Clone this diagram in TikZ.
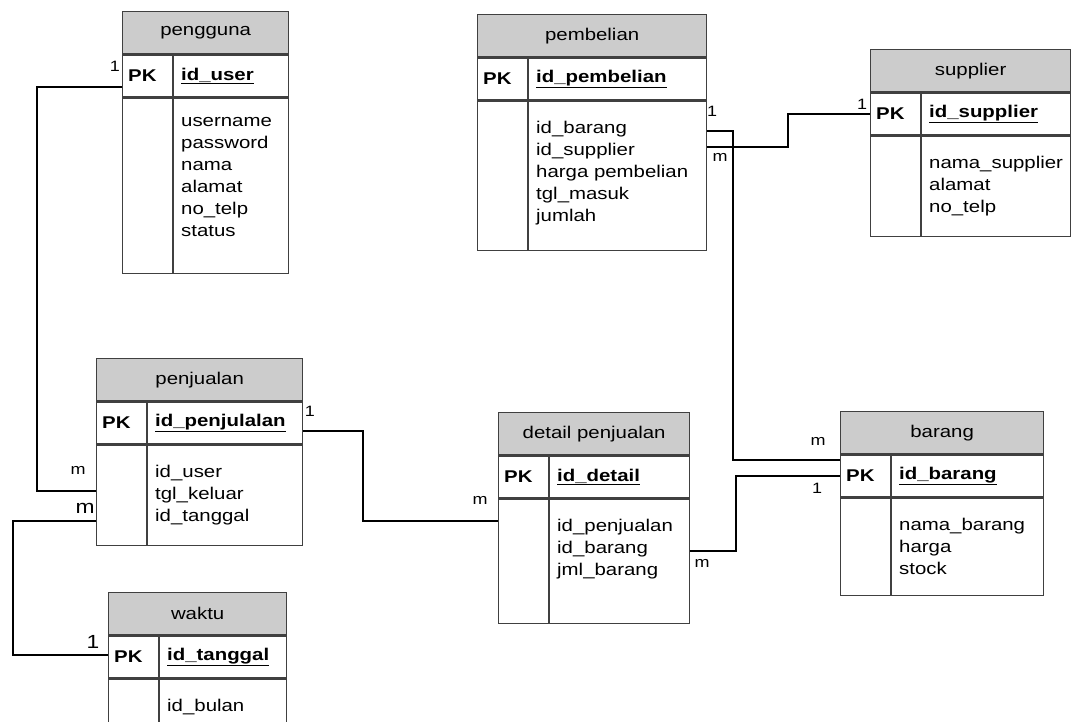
\documentclass[tikz,border=0pt]{standalone}
\usepackage{fontspec}
\setmainfont[FakeStretch=1.2]{Liberation Sans}
\usetikzlibrary{
  positioning,
  calc
}

\begin{document}
\begin{tikzpicture}[
    x=1pt,y=-1pt,
    font=\fontsize{17}{22}\selectfont,
    tblhead/.style={
      draw=black!75,
      line width=1.3pt,
      fill=black!20,
      minimum height=42pt,
      inner sep=0pt
    },
    tblkey/.style={
      draw=black!75,
      line width=1.3pt,
      fill=white,
      minimum height=42pt,
      inner sep=0pt
    },
    tblbody/.style={
      draw=black!75,
      line width=1.3pt,
      fill=white,
      inner sep=0pt
    },
    tblline/.style={
      draw=black!75,
      line width=1.3pt
    },
    pktext/.style={
      font=\fontsize{17}{22}\selectfont\bfseries,
      inner sep=0pt
    },
    fieldtext/.style={
      align=left,
      inner sep=0pt
    },
    rel/.style={
      draw=black,
      line width=1.8pt
    },
    card/.style={
      font=\fontsize{15}{16}\selectfont,
      inner sep=0pt
    },
    bigcard/.style={
      font=\fontsize{19}{20}\selectfont,
      inner sep=0pt
    }
  ]
  \newcommand{\divX}{51}
  \newcommand{\erTable}[8]{
    \node[tblhead, minimum width=#4pt, anchor=north west] (#1) at (#2,#3) {#6};
    \node[tblkey, minimum width=#4pt, anchor=north] (#1-pk) at (#1.south) {};
    \node[tblbody, minimum width=#4pt, minimum height=#5pt, anchor=north] (#1-body) at (#1-pk.south) {};
    \draw[tblline] ([xshift=\divX pt]#1-pk.north west) -- ([xshift=\divX pt]#1-body.south west);
    \node[pktext, anchor=west] (#1-pklabel) at ([xshift=6pt]#1-pk.west) {PK};
    \node[pktext, anchor=west] (#1-key) at ([xshift=\divX pt+8pt]#1-pk.west) {\underline{#7}};
    \node[fieldtext, anchor=north west] (#1-fields) at ([xshift=\divX pt+8pt,yshift=-20pt]#1-body.north west) {#8};
  }
  \useasboundingbox[fill=white] (0,0) rectangle (1073,722);

  % Tables
  \erTable{pengguna}{122}{11}{166}{175}{pengguna}{id\_user}{username\\password\\nama\\alamat\\no\_telp\\status}
  \erTable{pembelian}{477}{14}{229}{149}{pembelian}{id\_pembelian}{id\_barang\\id\_supplier\\harga pembelian\\tgl\_masuk\\jumlah}
  \erTable{supplier}{870}{49}{200}{100}{supplier}{id\_supplier}{nama\_supplier\\alamat\\no\_telp}
  \erTable{penjualan}{96}{358}{206}{100}{penjualan}{id\_penjulalan}{id\_user\\tgl\_keluar\\id\_tanggal}
  \erTable{detail}{498}{412}{191}{124}{detail penjualan}{id\_detail}{id\_penjualan\\id\_barang\\jml\_barang}
  \erTable{barang}{840}{411}{203}{97}{barang}{id\_barang}{nama\_barang\\harga\\stock}
  \erTable{waktu}{108}{592}{178}{60}{waktu}{id\_tanggal}{id\_bulan}

  % Relations
  \draw[rel] ([yshift=-11pt]pengguna-pk.west) -- ++(-85,0) |- ([yshift=4pt]penjualan-body.west);
  \draw[rel] ([yshift=-26pt]penjualan-body.west) -- ++(-83,0) |- ([yshift=2pt]waktu-pk.west);
  \draw[rel] ([yshift=-8pt]penjualan-pk.east) -- ++(60,0) |- ([yshift=40pt]detail-body.west);
  \draw[rel] ([yshift=10pt]detail-body.east) -- ++(46,0) |- (barang-pk.west);
  \draw[rel] ([yshift=45pt]pembelian-body.east) -- ++(26,0) |- ([yshift=16pt]barang-pk.west);
  \draw[rel] ([yshift=29pt]pembelian-body.east) -- ++(81,0) |- (supplier-pk.west);

  % Cardinalities
  \node[card] (c-pengguna) at (115,66) {1};
  \node[card] (c-penjualan1) at (78,470) {m};
  \node[bigcard] (c-penjualan2) at (85,508) {m};
  \node[bigcard] (c-waktu) at (93,642) {1};
  \node[card] (c-penjualan3) at (310,411) {1};
  \node[card] (c-detail1) at (480,500) {m};
  \node[card] (c-detail2) at (702,563) {m};
  \node[card] (c-barang1) at (817,488) {1};
  \node[card] (c-barang2) at (818,441) {m};
  \node[card] (c-pembelian1) at (712,111) {1};
  \node[card] (c-pembelian2) at (720,157) {m};
  \node[card] (c-supplier) at (862,104) {1};
\end{tikzpicture}
\end{document}
